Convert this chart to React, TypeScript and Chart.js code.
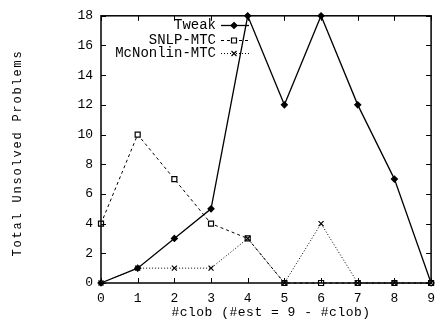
import React, { useEffect, useRef } from "react";
import { Chart, registerables } from "chart.js";

Chart.register(...registerables);

const xLabels = ["0", "1", "2", "3", "4", "5", "6", "7", "8", "9"];
const tweak = [0, 1, 3, 5, 18, 12, 18, 12, 7, 0];
const snlpMtc = [4, 10, 7, 4, 3, 0, 0, 0, 0, 0];
const mcNonlinMtc = [0, 1, 1, 1, 3, 0, 4, 0, 0, 0];
const seriesNames = ["Tweak", "SNLP-MTC", "McNonlin-MTC"];
const yTitle = "Total Unsolved Problems";
const xTitle = "#clob (#est = 9 - #clob)";

const MONO = "'Liberation Mono', 'DejaVu Sans Mono', monospace";

// marker shapes used in the plot and in the key
function drawMarker(ctx: CanvasRenderingContext2D, kind: string, x: number, y: number) {
  ctx.save();
  ctx.setLineDash([]);
  ctx.strokeStyle = "#000";
  ctx.fillStyle = "#000";
  ctx.lineWidth = 1.2;
  ctx.beginPath();
  if (kind === "diamond") {
    const r = 3;
    ctx.moveTo(x, y - r);
    ctx.lineTo(x + r, y);
    ctx.lineTo(x, y + r);
    ctx.lineTo(x - r, y);
    ctx.closePath();
    ctx.fill();
    ctx.stroke();
  } else if (kind === "square") {
    const r = 2.5;
    ctx.fillStyle = "#fff";
    ctx.rect(x - r, y - r, 2 * r, 2 * r);
    ctx.fill();
    ctx.stroke();
  } else {
    const r = 2.5;
    ctx.moveTo(x - r, y - r);
    ctx.lineTo(x + r, y + r);
    ctx.moveTo(x + r, y - r);
    ctx.lineTo(x - r, y + r);
    ctx.stroke();
  }
  ctx.restore();
}

const markerKinds = ["diamond", "square", "cross"];

// Frame, inward ticks on all sides, axis titles and the key
const framePlugin = {
  id: "frame",
  afterDatasetsDraw(chart: any) {
    const { ctx, chartArea: a, scales } = chart;
    const xs = scales.x;
    const ys = scales.y;
    ctx.save();

    // markers on top of lines
    chart.data.datasets.forEach((ds: any, i: number) => {
      const meta = chart.getDatasetMeta(i);
      meta.data.forEach((pt: any) => drawMarker(ctx, markerKinds[i], pt.x, pt.y));
    });

    ctx.strokeStyle = "#000";
    ctx.lineWidth = 1.5;
    ctx.setLineDash([]);
    ctx.strokeRect(a.left, a.top, a.right - a.left, a.bottom - a.top);
    ctx.lineWidth = 1;
    const tl = 5;
    ctx.beginPath();
    xLabels.forEach((_, i) => {
      const px = Math.round(xs.getPixelForValue(i)) + 0.5;
      ctx.moveTo(px, a.bottom);
      ctx.lineTo(px, a.bottom - tl);
      ctx.moveTo(px, a.top);
      ctx.lineTo(px, a.top + tl);
    });
    for (let v = 0; v <= 18; v += 2) {
      const py = Math.round(ys.getPixelForValue(v)) + 0.5;
      ctx.moveTo(a.left, py);
      ctx.lineTo(a.left + tl, py);
      ctx.moveTo(a.right, py);
      ctx.lineTo(a.right - tl, py);
    }
    ctx.stroke();

    ctx.fillStyle = "#000";
    ctx.textAlign = "center";
    ctx.textBaseline = "middle";
    ctx.font = `13px ${MONO}`;
    (ctx as any).letterSpacing = "0.5px";
    ctx.fillText(xTitle, 271, 313);

    ctx.save();
    ctx.translate(18, 153);
    ctx.rotate(-Math.PI / 2);
    ctx.font = `12px ${MONO}`;
    (ctx as any).letterSpacing = "1.8px";
    ctx.fillText(yTitle, 0, 0);
    ctx.restore();
    (ctx as any).letterSpacing = "0px";

    // key
    const rows = [25, 40, 53];
    ctx.font = `14px ${MONO}`;
    ctx.textAlign = "right";
    chart.data.datasets.forEach((ds: any, i: number) => {
      const y = rows[i];
      ctx.fillStyle = "#000";
      ctx.fillText(ds.label, 216, y);
      ctx.beginPath();
      ctx.strokeStyle = "#000";
      ctx.lineWidth = ds.borderWidth;
      ctx.setLineDash(ds.borderDash || []);
      ctx.moveTo(221, y + 0.5);
      ctx.lineTo(249, y + 0.5);
      ctx.stroke();
      ctx.setLineDash([]);
      drawMarker(ctx, markerKinds[i], 234, y + 0.5);
    });
    ctx.restore();
  },
};

export default function App() {
  const ref = useRef<HTMLCanvasElement | null>(null);

  useEffect(() => {
    document.body.style.margin = "0";
    const canvas = ref.current!;
    const chart = new Chart(canvas, {
      type: "line",
      data: {
        labels: xLabels,
        datasets: [
          {
            label: seriesNames[0],
            data: tweak,
            borderColor: "#000",
            borderWidth: 1.3,
            pointRadius: 0,
            tension: 0,
            clip: false,
          },
          {
            label: seriesNames[1],
            data: snlpMtc,
            borderColor: "#000",
            borderWidth: 1,
            borderDash: [3, 3],
            pointRadius: 0,
            tension: 0,
            clip: false,
          },
          {
            label: seriesNames[2],
            data: mcNonlinMtc,
            borderColor: "#000",
            borderWidth: 1,
            borderDash: [1, 2],
            pointRadius: 0,
            tension: 0,
            clip: false,
          },
        ],
      },
      options: {
        animation: false,
        responsive: false,
        devicePixelRatio: 1,
        layout: { padding: { top: 11, right: 4, left: 0, bottom: 0 } },
        plugins: { legend: { display: false }, tooltip: { enabled: false } },
        scales: {
          x: {
            type: "category",
            offset: false,
            grid: { display: false, drawTicks: false },
            border: { display: false },
            ticks: {
              color: "#000",
              font: { family: MONO, size: 13 },
              padding: 8,
              maxRotation: 0,
              autoSkip: false,
            },
            afterFit(scale: any) {
              scale.height = 40;
            },
          },
          y: {
            min: 0,
            max: 18,
            grid: { display: false, drawTicks: false },
            border: { display: false },
            ticks: {
              stepSize: 2,
              color: "#000",
              font: { family: MONO, size: 13 },
              padding: 8,
            },
            afterFit(scale: any) {
              scale.width = 101;
            },
          },
        },
      },
      plugins: [framePlugin],
    });
    return () => chart.destroy();
  }, []);

  return (
    <div style={{ width: 443, height: 323, background: "#fff" }}>
      <canvas ref={ref} width={443} height={323} />
    </div>
  );
}
